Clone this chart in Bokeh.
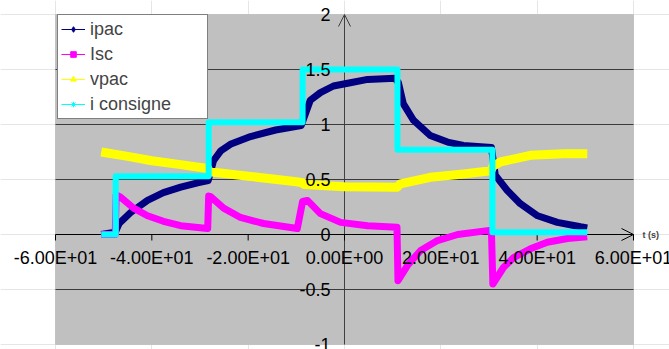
from bokeh.plotting import figure
from bokeh.models import (Range1d, Legend, LegendItem, ColumnDataSource, LabelSet, Label,
                          Arrow, OpenHead, BoxAnnotation)
from bokeh.embed import file_html
from bokeh.resources import INLINE
from bokeh.core.properties import value

# ---- data ----
t_ipac = [-50.5, -47.6, -46.8, -44.4, -40.9, -37.6, -34.0, -30.5, -28.3, -27.2, -25.7, -23.7,
          -19.5, -14.3, -9.0, -7.1, -5.0, -2.3, 1.2, 4.8, 10.5, 11.2, 12.2, 14.3, 17.8, 21.4,
          24.7, 30.5, 31.3, 33.8, 36.5, 40.1, 44.2, 49.0, 50.4]
ipac = [0.0, 0.02, 0.10, 0.20, 0.31, 0.38, 0.43, 0.47, 0.49, 0.67, 0.76, 0.82,
        0.89, 0.95, 0.99, 1.22, 1.29, 1.35, 1.38, 1.41, 1.42, 1.38, 1.19, 1.04, 0.90, 0.84,
        0.81, 0.79, 0.54, 0.40, 0.28, 0.17, 0.11, 0.07, 0.06]

t_isc = [-50.5, -47.6, -47.4, -46.5, -43.8, -40.9, -37.6, -34.0, -28.4, -28.2, -27.8, -25.1,
         -21.6, -16.8, -9.8, -8.7, -7.7, -5.0, -0.8, 4.8, 10.9, 11.1, 13.1, 15.8, 19.3, 23.5,
         30.5, 30.8, 33.0, 35.1, 38.6, 42.1, 46.3, 50.4]
isc = [0.0, 0.0, 0.36, 0.34, 0.24, 0.17, 0.12, 0.08, 0.055, 0.35, 0.345, 0.24,
       0.155, 0.10, 0.055, 0.30, 0.31, 0.19, 0.11, 0.08, 0.065, -0.42, -0.28, -0.145, -0.055, 0.0,
       0.04, -0.45, -0.30, -0.21, -0.13, -0.07, -0.036, -0.02]

t_vpac = [-50.5, -45.0, -40.0, -34.0, -28.4, -28.0, -20.0, -10.0, -8.7, -8.4, 0.0, 10.9, 11.6,
          17.8, 24.7, 30.4, 30.8, 32.4, 38.6, 45.5, 50.4]
vpac = [0.75, 0.71, 0.67, 0.635, 0.60, 0.57, 0.53, 0.48, 0.47, 0.455, 0.435, 0.43, 0.46,
        0.52, 0.55, 0.58, 0.62, 0.66, 0.72, 0.735, 0.735]

t_cons = [-50.5, -47.5, -47.5, -28.2, -28.2, -8.7, -8.7, 11.0, 11.0, 30.7, 30.7, 50.4]
consigne = [0.0, 0.0, 0.53, 0.53, 1.02, 1.02, 1.50, 1.50, 0.77, 0.77, 0.02, 0.02]

series_names = ["ipac", "Isc", "vpac", "i consigne"]
series_units = ["(A)", "(A)", "(v)", "(A)"]
series_colors = ["#000080", "#ff00ff", "#ffff00", "#00ffff"]
series_markers = ["diamond", "square", "triangle", "asterisk"]

x_ticks = [-60, -40, -20, 0, 20, 40, 60]
y_ticks = [-1, -0.5, 0, 0.5, 1, 1.5, 2]
y_tick_labels = ["-1", "-0.5", "0", "0.5", "1", "1.5", "2"]
grid_ticks = [-0.5, 0.5, 1, 1.5]

FONT = "Liberation Sans"
W, H = 669, 349
# plot area in pixels (left, right, top, bottom)
PL, PR, PT, PB = 55, 633, 14, 344
XMIN, XMAX, YMIN, YMAX = x_ticks[0], x_ticks[-1], y_ticks[0], y_ticks[-1]
kx = (PR - PL) / (XMAX - XMIN)
ky = (PB - PT) / (YMAX - YMIN)

def px2x(px):
    return XMIN + (px - PL) / kx

def py2y(py):
    return YMAX - (py - PT) / ky

p = figure(width=W, height=H, output_backend="svg", toolbar_location=None,
           x_range=Range1d(px2x(0), px2x(W)), y_range=Range1d(py2y(H), py2y(0)),
           x_axis_location=None, y_axis_location=None, min_border=0)
p.background_fill_color = "white"
p.border_fill_color = "white"
p.outline_line_color = None

# grey plot area
p.add_layout(BoxAnnotation(left=XMIN, right=XMAX, bottom=YMIN, top=YMAX,
                           fill_color="#c0c0c0", fill_alpha=1,
                           line_color="#a0a0a0", line_width=1, level="underlay"))

# axes crossing at zero (under the data)
p.add_layout(Arrow(end=OpenHead(size=12, line_color="#404040", line_width=1),
                   x_start=0, y_start=YMIN, x_end=0, y_end=YMAX,
                   line_color="#404040", line_width=1, level="underlay"))
p.add_layout(Arrow(end=OpenHead(size=12, line_color="black", line_width=1),
                   x_start=XMIN, y_start=0, x_end=XMAX, y_end=0,
                   line_color="black", line_width=1, level="underlay"))

# horizontal grid lines
p.segment(x0=[XMIN] * len(grid_ticks), y0=grid_ticks, x1=[XMAX] * len(grid_ticks), y1=grid_ticks,
          color="#3a3a3a", line_width=1)
# x tick marks
p.segment(x0=x_ticks, y0=[0] * len(x_ticks), x1=x_ticks, y1=[-6 / ky] * len(x_ticks),
          color="black", line_width=1)

# data
widths = [7, 7, 9, 6]
for (tt, vv), c, w in zip([(t_ipac, ipac), (t_isc, isc), (t_vpac, vpac), (t_cons, consigne)],
                          series_colors, widths):
    p.line(tt, vv, color=c, line_width=w, line_join="round")

# tick labels
xsrc = ColumnDataSource(dict(x=x_ticks, y=[0] * len(x_ticks),
                             text=[f"{float(v):.2E}" for v in x_ticks]))
p.add_layout(LabelSet(x="x", y="y", text="text", source=xsrc, text_align="center",
                      text_baseline="middle", y_offset=-23, text_font=value(FONT),
                      text_font_size="18px", text_color="black"))
ysrc = ColumnDataSource(dict(x=[0] * len(y_ticks), y=y_ticks, text=y_tick_labels))
p.add_layout(LabelSet(x="x", y="y", text="text", source=ysrc, text_align="right",
                      text_baseline="middle", x_offset=-14, text_font=value(FONT),
                      text_font_size="18px", text_color="black"))
p.add_layout(Label(x=XMAX, y=0, x_offset=9, text="t (s)", text_font=FONT, text_font_size="9px",
                   text_font_style="bold", text_baseline="middle"))

# legend
items = []
nan = float("nan")
for name, c, m in zip(series_names, series_colors, series_markers):
    r1 = p.line(x=[nan], y=[nan], color=c, line_width=1)
    r2 = p.scatter(x=[nan], y=[nan], marker=m, color=c, size=6)
    items.append(LegendItem(label=name, renderers=[r1, r2]))
LEG_H = 4 * 22 + 3 * 3 + 2 * 3
legend = Legend(items=items, location=(57, H - 16 - LEG_H), margin=0, padding=3, spacing=3,
                label_height=22, glyph_height=14, glyph_width=24, label_standoff=5,
                label_width=114, label_text_font=FONT, label_text_font_size="18px",
                border_line_color="black", border_line_width=1,
                background_fill_color="white", background_fill_alpha=1)
p.add_layout(legend)

unit_px = [133, 126, 136, 176]
unit_py = [31, 56, 81, 106]
for u, ux, uy in zip(series_units, unit_px, unit_py):
    p.add_layout(Label(x=px2x(ux), y=py2y(uy), text=u,
                       text_font=FONT, text_font_size="9px", text_font_style="bold",
                       text_baseline="middle"))

open("out.html", "w").write(file_html(p, INLINE))
